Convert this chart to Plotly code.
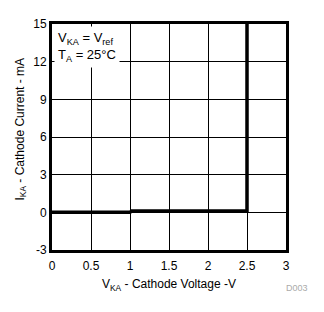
import plotly.graph_objects as go

voltage = [0, 1.0, 1.02, 2.5, 2.5]
current = [0, 0, 0.1, 0.12, 15]

x_ticks = [0, 0.5, 1, 1.5, 2, 2.5, 3]
x_labels = ["0", "0.5", "1", "1.5", "2", "2.5", "3"]
y_ticks = [-3, 0, 3, 6, 9, 12, 15]
y_labels = ["-3", "0", "3", "6", "9", "12", "15"]

font = "Liberation Sans, Arial, sans-serif"

fig = go.Figure()
fig.add_trace(go.Scatter(x=voltage, y=current, mode="lines",
                         line=dict(color="black", width=3.5), showlegend=False))

fig.update_layout(
    width=324, height=312,
    margin=dict(l=52, r=38, t=24, b=62),
    paper_bgcolor="white", plot_bgcolor="white",
    font=dict(family=font, size=12, color="black"),
)
fig.update_xaxes(range=[0, 3], tickvals=x_ticks, ticktext=x_labels,
                 showgrid=True, gridcolor="black", gridwidth=1,
                 showline=True, linecolor="black", linewidth=3, mirror=True,
                 zeroline=False, ticks="", tickfont=dict(size=12, family=font),
                 ticklabelstandoff=3,
                 title=dict(text="V<sub>KA</sub> - Cathode Voltage -V", font=dict(size=12, family=font), standoff=8))
fig.update_yaxes(range=[-3, 15], tickvals=y_ticks, ticktext=y_labels,
                 showgrid=True, gridcolor="black", gridwidth=1,
                 showline=True, linecolor="black", linewidth=3, mirror=True,
                 zeroline=False, ticks="", tickfont=dict(size=12, family=font))

# Y-axis title as annotation (slightly above plot centre as in reference)
fig.add_annotation(xref="paper", yref="paper", x=-0.134, y=0.536, xanchor="center", yanchor="middle",
                   text="I<sub>KA</sub> - Cathode Current - mA", textangle=-90,
                   showarrow=False, font=dict(size=12, family=font))

# conditions text with white box covering the grid
fig.add_annotation(xref="paper", yref="paper", x=0.008, y=0.99, xanchor="left", yanchor="top",
                   text="V<sub>KA</sub> = V<sub>ref</sub><br>T<sub>A</sub> = 25°C",
                   showarrow=False, align="left", bgcolor="white",
                   font=dict(size=13, family=font), borderpad=3)
fig.add_annotation(xref="paper", yref="paper", x=1.047, y=-0.135, xanchor="center", yanchor="top",
                   text="D003", showarrow=False, font=dict(size=9, family=font, color="#aaaaaa"))

fig.write_html("out.html")
